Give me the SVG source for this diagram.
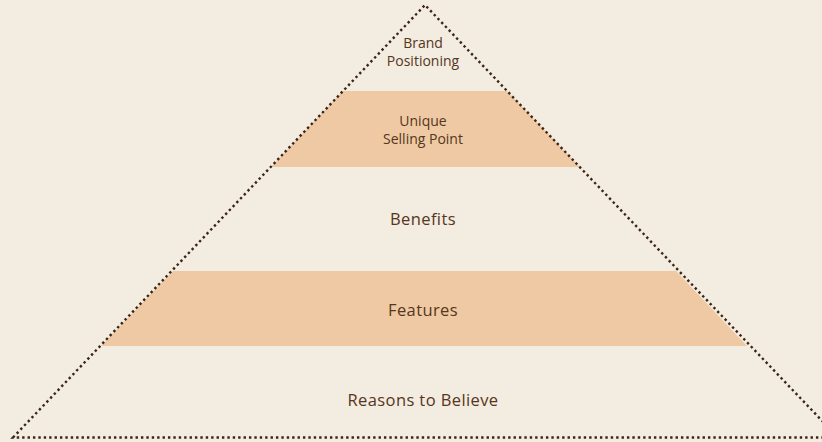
<svg xmlns="http://www.w3.org/2000/svg" width="822" height="442" viewBox="0 0 822 442">
  <style>
    .band { fill: #EEC9A3; }
    .lbl { font-family: "Open Sans", "Noto Sans", sans-serif; fill: #553620; text-anchor: middle; }
    .s { font-size: 14px; }
    .m { font-size: 16.5px; letter-spacing: 0.4px; }
    .outline { fill: none; stroke: #3B2416; stroke-width: 2.4; stroke-dasharray: 2.4 3; }
  </style>
  <rect width="822" height="442" fill="#F3ECE0"/>
  <g id="brand-positioning">
    <text class="lbl s" x="423" y="48">Brand</text>
    <text class="lbl s" x="423" y="66">Positioning</text>
  </g>
  <g id="unique-selling-point">
    <polygon class="band" points="343,91 507,91 580,167 271,167"/>
    <text class="lbl s" x="423" y="126">Unique</text>
    <text class="lbl s" x="423" y="144">Selling Point</text>
  </g>
  <g id="benefits">
    <text class="lbl m" x="423" y="225">Benefits</text>
  </g>
  <g id="features">
    <polygon class="band" points="173,271 676,271 747,346 101,346"/>
    <text class="lbl m" x="423" y="316">Features</text>
  </g>
  <g id="reasons-to-believe">
    <text class="lbl m" x="423" y="406">Reasons to Believe</text>
  </g>
  <g id="connectors">
    <path class="outline" d="M13,437.5 L425,5 L838,437.5 Z"/>
  </g>
</svg>
